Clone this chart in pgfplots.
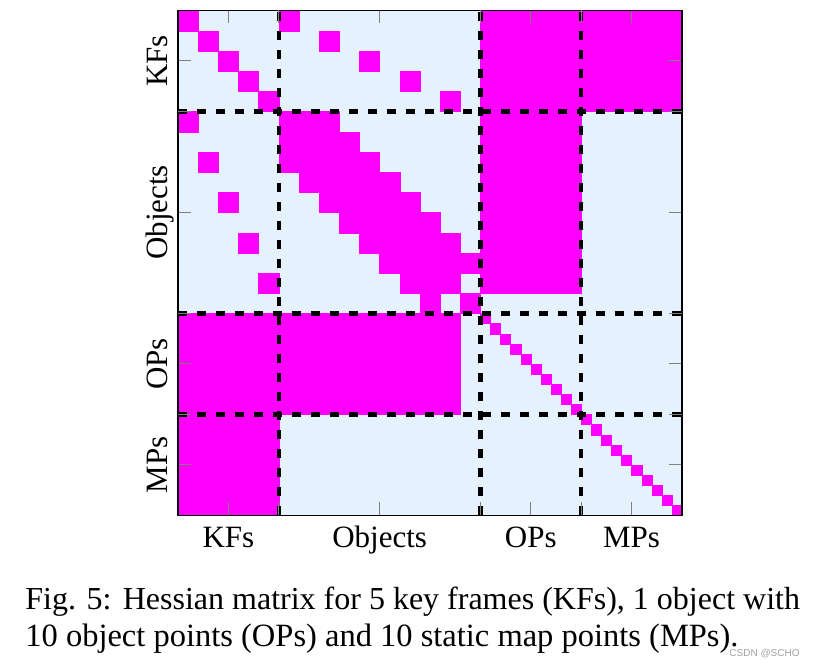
\documentclass[border=0pt]{standalone}
\usepackage{pgfplots}
\pgfplotsset{compat=1.18}
\usepackage{fontspec}
\setmainfont{Liberation Serif}
\newfontfamily\wmfont{Liberation Sans}
\definecolor{mag}{RGB}{255,0,255}
\definecolor{bg}{RGB}{229,241,253}
\definecolor{wm}{RGB}{160,160,160}
\pgfplotsset{cell/.style={fill=mag, draw=mag, line width=0.15pt, forget plot}}
\begin{document}
\begin{tikzpicture}
\useasboundingbox (0,0) rectangle (408pt,-334pt);
\begin{axis}[
  at={(89pt,-5.25pt)}, anchor=north west,
  scale only axis, width=252pt, height=252.5pt,
  xmin=0, xmax=50, ymin=0, ymax=50,
  axis on top,
  axis background/.style={fill=bg},
  axis line style={black, line width=0.6pt},
  xtick={5,20,35,45}, xticklabels={KFs,Objects,OPs,MPs},
  ytick={5,15,30,45}, yticklabels={MPs,OPs,Objects,KFs},
  tick align=inside, major tick length=6.5pt,
  tick style={gray, line width=0.5pt},
  extra x ticks={10,30,40}, extra y ticks={10,20,40},
  extra x tick labels={}, extra y tick labels={},
  extra tick style={grid=major},
  major grid style={black, line width=2.2pt, dash pattern=on 4.5pt off 5pt},
  tick label style={font=\fontsize{15.5}{18}\selectfont},
  xticklabel style={anchor=base, yshift=-16pt},
  yticklabel style={xshift=-5.5pt, rotate=90, anchor=base},
]
% KF-KF diagonal
\addplot[cell] coordinates {(0,48) (2,48) (2,50) (0,50)} -- cycle;
\addplot[cell] coordinates {(2,46) (4,46) (4,48) (2,48)} -- cycle;
\addplot[cell] coordinates {(4,44) (6,44) (6,46) (4,46)} -- cycle;
\addplot[cell] coordinates {(6,42) (8,42) (8,44) (6,44)} -- cycle;
\addplot[cell] coordinates {(8,40) (10,40) (10,42) (8,42)} -- cycle;
% KF-Objects
\addplot[cell] coordinates {(10,48) (12,48) (12,50) (10,50)} -- cycle;
\addplot[cell] coordinates {(14,46) (16,46) (16,48) (14,48)} -- cycle;
\addplot[cell] coordinates {(18,44) (20,44) (20,46) (18,46)} -- cycle;
\addplot[cell] coordinates {(22,42) (24,42) (24,44) (22,44)} -- cycle;
\addplot[cell] coordinates {(26,40) (28,40) (28,42) (26,42)} -- cycle;
% Objects-KF
\addplot[cell] coordinates {(0,38) (2,38) (2,40) (0,40)} -- cycle;
\addplot[cell] coordinates {(2,34) (4,34) (4,36) (2,36)} -- cycle;
\addplot[cell] coordinates {(4,30) (6,30) (6,32) (4,32)} -- cycle;
\addplot[cell] coordinates {(6,26) (8,26) (8,28) (6,28)} -- cycle;
\addplot[cell] coordinates {(8,22) (10,22) (10,24) (8,24)} -- cycle;
% Objects-Objects band
\addplot[cell] coordinates {(10,38) (16,38) (16,40) (10,40)} -- cycle;
\addplot[cell] coordinates {(10,36) (18,36) (18,38) (10,38)} -- cycle;
\addplot[cell] coordinates {(10,34) (20,34) (20,36) (10,36)} -- cycle;
\addplot[cell] coordinates {(12,32) (22,32) (22,34) (12,34)} -- cycle;
\addplot[cell] coordinates {(14,30) (24,30) (24,32) (14,32)} -- cycle;
\addplot[cell] coordinates {(16,28) (26,28) (26,30) (16,30)} -- cycle;
\addplot[cell] coordinates {(18,26) (28,26) (28,28) (18,28)} -- cycle;
\addplot[cell] coordinates {(20,24) (30,24) (30,26) (20,26)} -- cycle;
\addplot[cell] coordinates {(22,22) (28,22) (28,24) (22,24)} -- cycle;
\addplot[cell] coordinates {(24,20) (26,20) (26,22) (24,22)} -- cycle;
\addplot[cell] coordinates {(28,20) (30,20) (30,22) (28,22)} -- cycle;
% dense blocks
\addplot[cell] coordinates {(30,40) (50,40) (50,50) (30,50)} -- cycle;
\addplot[cell] coordinates {(30,22) (40,22) (40,40) (30,40)} -- cycle;
\addplot[cell] coordinates {(0,10) (28,10) (28,20) (0,20)} -- cycle;
\addplot[cell] coordinates {(0,0) (10,0) (10,10) (0,10)} -- cycle;
% OPs diagonal
\addplot[cell] coordinates {(30,19) (31,19) (31,20) (30,20)} -- cycle;
\addplot[cell] coordinates {(31,18) (32,18) (32,19) (31,19)} -- cycle;
\addplot[cell] coordinates {(32,17) (33,17) (33,18) (32,18)} -- cycle;
\addplot[cell] coordinates {(33,16) (34,16) (34,17) (33,17)} -- cycle;
\addplot[cell] coordinates {(34,15) (35,15) (35,16) (34,16)} -- cycle;
\addplot[cell] coordinates {(35,14) (36,14) (36,15) (35,15)} -- cycle;
\addplot[cell] coordinates {(36,13) (37,13) (37,14) (36,14)} -- cycle;
\addplot[cell] coordinates {(37,12) (38,12) (38,13) (37,13)} -- cycle;
\addplot[cell] coordinates {(38,11) (39,11) (39,12) (38,12)} -- cycle;
\addplot[cell] coordinates {(39,10) (40,10) (40,11) (39,11)} -- cycle;
% MPs diagonal
\addplot[cell] coordinates {(40,9) (41,9) (41,10) (40,10)} -- cycle;
\addplot[cell] coordinates {(41,8) (42,8) (42,9) (41,9)} -- cycle;
\addplot[cell] coordinates {(42,7) (43,7) (43,8) (42,8)} -- cycle;
\addplot[cell] coordinates {(43,6) (44,6) (44,7) (43,7)} -- cycle;
\addplot[cell] coordinates {(44,5) (45,5) (45,6) (44,6)} -- cycle;
\addplot[cell] coordinates {(45,4) (46,4) (46,5) (45,5)} -- cycle;
\addplot[cell] coordinates {(46,3) (47,3) (47,4) (46,4)} -- cycle;
\addplot[cell] coordinates {(47,2) (48,2) (48,3) (47,3)} -- cycle;
\addplot[cell] coordinates {(48,1) (49,1) (49,2) (48,2)} -- cycle;
\addplot[cell] coordinates {(49,0) (50,0) (50,1) (49,1)} -- cycle;
\end{axis}
\node[anchor=base west, inner sep=0pt, font=\fontsize{16}{19}\selectfont] at (12.5pt,-305pt) {Fig. 5:\hspace{0.35em}Hessian matrix for 5 key frames (KFs), 1 object with};
\node[anchor=base west, inner sep=0pt, font=\fontsize{16.25}{19}\selectfont] at (12.5pt,-323.4pt) {10 object points (OPs) and 10 static map points (MPs).};
\node[anchor=base east, inner sep=0pt, text=wm, font=\wmfont\fontsize{5}{6}\selectfont] at (400pt,-328.5pt) {CSDN @SCHO};
\end{tikzpicture}
\end{document}
